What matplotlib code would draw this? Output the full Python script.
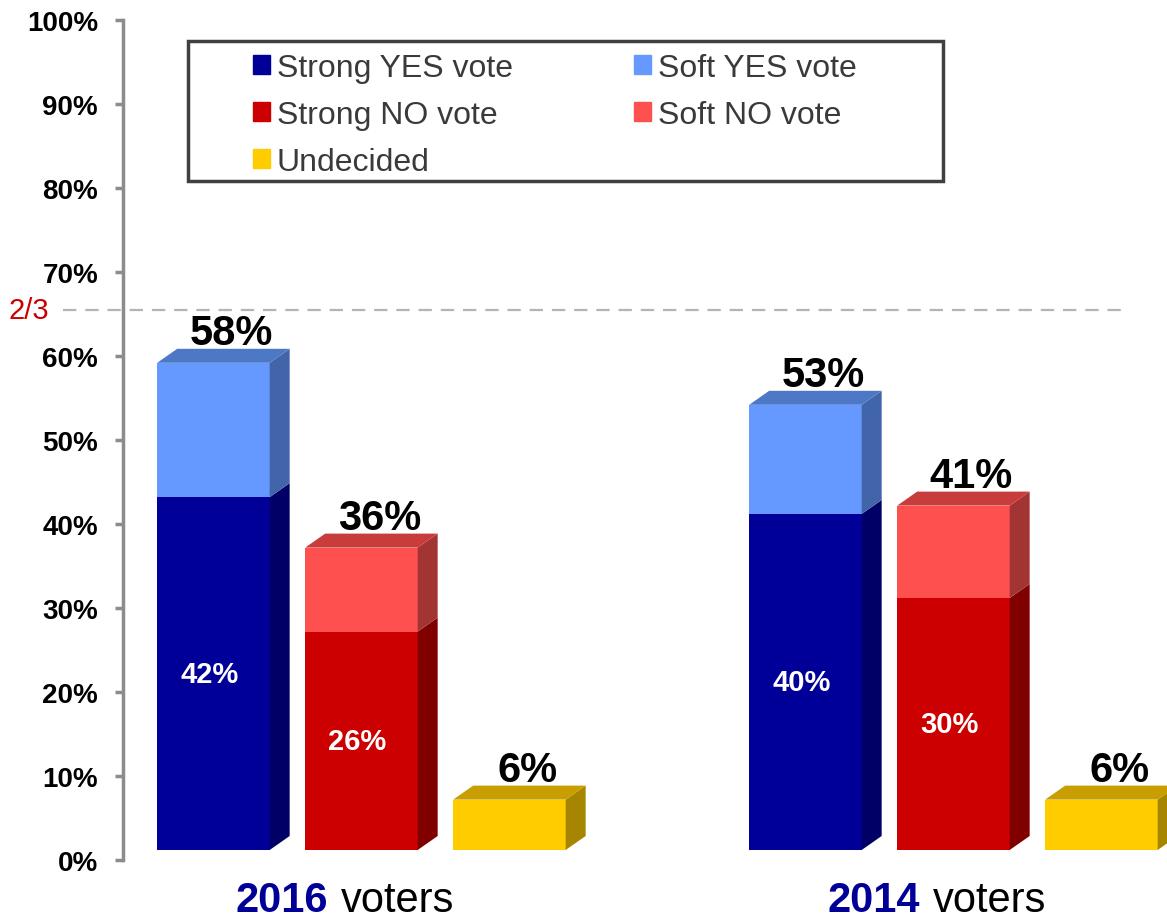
import matplotlib
matplotlib.use('Agg')
import matplotlib.pyplot as plt
import matplotlib.transforms as mtransforms
from matplotlib.patches import Polygon, Patch, Rectangle

plt.rcParams['font.family'] = ['Liberation Sans', 'DejaVu Sans']

# данные
groups = ['2016', '2014']
strong_yes = [42, 40]
soft_yes = [16, 13]
strong_no = [26, 30]
soft_no = [10, 11]
undecided = [6, 6]
two_thirds = 200 / 3
yticks = list(range(0, 101, 10))
ytick_labels = [f'{v}%' for v in yticks]

# цвета: лицо, бок, верх
c_syes = ('#000099', '#000066', '#000080')
c_fyes = ('#6699FF', '#4264A8', '#4D78C6')
c_sno = ('#CC0000', '#800000', '#A00000')
c_fno = ('#FF5050', '#A33434', '#C83C3C')
c_und = ('#FFCC00', '#A68600', '#C89E00')

W, H = 1167, 920
fig = plt.figure(figsize=(W / 100, H / 100), dpi=100)
ax = fig.add_axes([123 / W, 59 / H, 1044 / W, 840 / H])
ax.patch.set_visible(False)
x_lo = -1.611
x_hi = x_lo + 1044 / 148
ax.set_xlim(x_lo, x_hi)
ax.set_ylim(0, 100)

ux = 1044 / (x_hi - x_lo)  # пикселей на единицу x
uy = 840 / 100             # пикселей на единицу y
DX, DY = 20 / ux, 14 / uy  # глубина 3D
SHIFT = 10 / uy            # передняя плоскость выше нуля оси
BW = 0.76


def box3d(x, bottom, height, colors, top=False):
    front, side, topc = colors
    b = bottom + SHIFT
    t = bottom + height + SHIFT
    x0, x1 = x - BW / 2, x + BW / 2
    ax.bar(x, height, bottom=b, width=BW, color=front, edgecolor='none',
           clip_on=False, zorder=3)
    ax.add_patch(Polygon([(x1, b), (x1 + DX, b + DY), (x1 + DX, t + DY), (x1, t)],
                         closed=True, facecolor=side, edgecolor='none',
                         clip_on=False, zorder=3))
    if top:
        ax.add_patch(Polygon([(x0, t), (x0 + DX, t + DY), (x1 + DX, t + DY), (x1, t)],
                             closed=True, facecolor=topc, edgecolor='none',
                             clip_on=False, zorder=3))


def total_label(x, total):
    ax.text(x + 18 / ux, total + SHIFT + DY + 5 / uy, f'{total}%', ha='center',
            va='baseline', fontsize=30, fontweight='bold', color='black',
            clip_on=False, zorder=4)


def inner_label(x, val):
    ax.text(x - 4 / ux, SHIFT + val / 2, f'{val}%', ha='center', va='center',
            fontsize=21, fontweight='bold', color='white', zorder=4)


for i, g in enumerate(groups):
    c = i * 4
    xy, xn, xu = c - 1, c, c + 1
    # ДА
    box3d(xy, 0, strong_yes[i], c_syes)
    box3d(xy, strong_yes[i], soft_yes[i], c_fyes, top=True)
    inner_label(xy, strong_yes[i])
    total_label(xy, strong_yes[i] + soft_yes[i])
    # НЕТ
    box3d(xn, 0, strong_no[i], c_sno)
    box3d(xn, strong_no[i], soft_no[i], c_fno, top=True)
    inner_label(xn, strong_no[i])
    total_label(xn, strong_no[i] + soft_no[i])
    # не решили
    box3d(xu, 0, undecided[i], c_und, top=True)
    total_label(xu, undecided[i])
    # подписи групп
    split = c - 33 / ux
    ax.text(split, -6.1, g, ha='right', va='baseline', fontsize=30,
            fontweight='bold', color='#000099', clip_on=False)
    ax.text(split + 12 / ux, -6.1, 'voters', ha='left', va='baseline',
            fontsize=30, color='black', clip_on=False)

# линия 2/3
line_y = two_thirds - 10 / uy
blend = mtransforms.blended_transform_factory(ax.transAxes, ax.transData)
ax.plot([-0.0575, 0.96], [line_y] * 2, transform=blend,
        color='#b4b4b4', lw=1.6, dashes=(6, 4), clip_on=False, zorder=1)
ax.text(-0.110, line_y, '2/3', transform=blend, ha='left',
        va='center', fontsize=21, color='#CC0000')

# оси
for s in ['top', 'right', 'bottom']:
    ax.spines[s].set_visible(False)
ax.spines['left'].set_color('#8c8c8c')
ax.spines['left'].set_linewidth(2.5)
ax.set_xticks([])
ax.set_yticks(yticks)
ax.set_yticklabels(ytick_labels, fontsize=20, fontweight='bold')
ax.tick_params(axis='y', length=6, width=2.5, color='#8c8c8c', pad=12)

# легенда
frame = Rectangle((188 / W, 1 - 182 / H), 755 / W, 140 / H,
                  transform=fig.transFigure, facecolor='white',
                  edgecolor='#404040', lw=2.5, zorder=2)
fig.add_artist(frame)
handles = [Patch(color=c_syes[0]), Patch(color=c_sno[0]), Patch(color=c_und[0]),
           Patch(color=c_fyes[0]), Patch(color=c_fno[0])]
labels = ['Strong YES vote', 'Strong NO vote', 'Undecided',
          'Soft YES vote', 'Soft NO vote']
leg = fig.legend(handles, labels, loc='upper left',
                 bbox_to_anchor=(253 / W, 1 - 54 / H), ncol=2, frameon=False,
                 fontsize=23, handlelength=0.53, handleheight=0.53,
                 handletextpad=0.22, columnspacing=3.8, labelspacing=0.53,
                 borderpad=0, borderaxespad=0, labelcolor='#3a3a3a')
leg.set_zorder(5)

fig.savefig('out.png', dpi=100)
